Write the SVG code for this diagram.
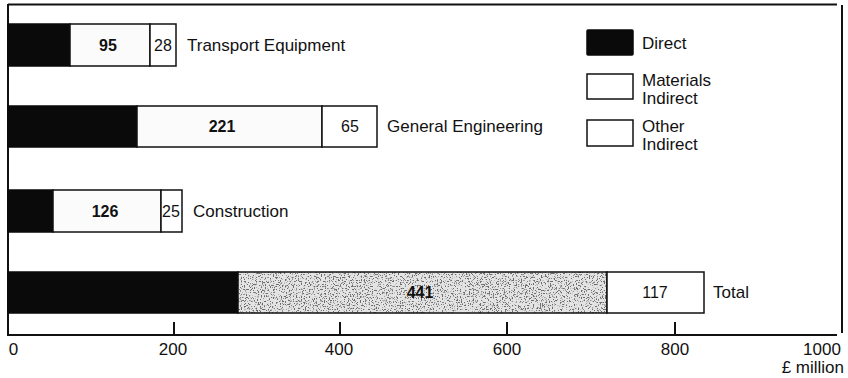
<svg xmlns="http://www.w3.org/2000/svg" width="848" height="378" viewBox="0 0 848 378">
<style>
  text { font-family: "Liberation Sans", Arial, sans-serif; fill: #111; }
  .lbl { font-size: 17px; }
  .val { font-size: 16px; text-anchor: middle; }
  .b { font-weight: bold; }
  .ax { font-size: 17px; text-anchor: middle; }
  .frame { stroke: #111; stroke-width: 2; fill: none; }
  .direct { fill: #0a0a0a; stroke: #0a0a0a; stroke-width: 1.5; }
  .mat { fill: #fbfbfb; stroke: #111; stroke-width: 1.5; }
  .oth { fill: #ffffff; stroke: #111; stroke-width: 1.5; }
  .stip { fill: none; stroke: #111; stroke-width: 1.5; }
</style>
<defs>
  <filter id="speckle" x="0" y="0" width="1" height="1" filterUnits="objectBoundingBox">
    <feTurbulence type="fractalNoise" baseFrequency="0.75" numOctaves="3" seed="7" result="n"/>
    <feColorMatrix in="n" type="matrix" values="0 0 0 0 0.15  0 0 0 0 0.15  0 0 0 0 0.15  0 0 0 9 -5.0"/>
  </filter>
</defs>

<g id="frame">
  <line class="frame" x1="8" y1="4.5" x2="837" y2="4.5"/>
  <line class="frame" x1="8" y1="4" x2="8" y2="336"/>
  <line class="frame" x1="842" y1="5" x2="842" y2="333"/>
  <line class="frame" x1="8" y1="335" x2="837" y2="335"/>
  <line class="frame" x1="174" y1="322" x2="174" y2="335"/>
  <line class="frame" x1="340" y1="322" x2="340" y2="335"/>
  <line class="frame" x1="507" y1="322" x2="507" y2="335"/>
  <line class="frame" x1="675" y1="322" x2="675" y2="335"/>
</g>

<g id="axis-labels">
  <text class="ax" x="13.5" y="355">0</text>
  <text class="ax" x="173" y="355">200</text>
  <text class="ax" x="339" y="355">400</text>
  <text class="ax" x="507" y="355">600</text>
  <text class="ax" x="675" y="355">800</text>
  <text class="ax" x="822" y="355">1000</text>
  <text class="lbl" x="844" y="373" text-anchor="end">£ million</text>
</g>

<g id="transport">
  <rect class="direct" x="8" y="24" width="62" height="42"/>
  <rect class="mat" x="70" y="24" width="80" height="42"/>
  <rect class="oth" x="150" y="24" width="26" height="42"/>
  <text class="val b" x="108" y="51">95</text>
  <text class="val" x="163" y="51">28</text>
  <text class="lbl" x="187" y="51">Transport Equipment</text>
</g>

<g id="general-engineering">
  <rect class="direct" x="8" y="106" width="129" height="41"/>
  <rect class="mat" x="137" y="106" width="185" height="41"/>
  <rect class="oth" x="322" y="106" width="55" height="41"/>
  <text class="val b" x="222" y="132">221</text>
  <text class="val" x="350" y="132">65</text>
  <text class="lbl" x="387" y="132">General Engineering</text>
</g>

<g id="construction">
  <rect class="direct" x="8" y="190" width="45" height="42"/>
  <rect class="mat" x="53" y="190" width="108" height="42"/>
  <rect class="oth" x="161" y="190" width="21" height="42"/>
  <text class="val b" x="105" y="217">126</text>
  <text class="val" x="171" y="217">25</text>
  <text class="lbl" x="193" y="217">Construction</text>
</g>

<g id="total">
  <rect class="direct" x="8" y="272" width="230" height="41"/>
  <rect x="238" y="272" width="369" height="41" fill="#e4e4e4"/>
  <rect x="238" y="272" width="369" height="41" fill="#000" filter="url(#speckle)"/>
  <rect class="stip" x="238" y="272" width="369" height="41"/>
  <rect class="oth" x="607" y="272" width="97" height="41"/>
  <text class="val b" x="420" y="298">441</text>
  <text class="val" x="655" y="298">117</text>
  <text class="lbl" x="713" y="298">Total</text>
</g>

<g id="legend">
  <rect class="direct" x="587" y="30" width="46" height="25" rx="1"/>
  <text class="lbl" x="642" y="49">Direct</text>
  <rect class="oth" x="587" y="74" width="46" height="25"/>
  <text class="lbl" x="642" y="86">Materials</text>
  <text class="lbl" x="642" y="104">Indirect</text>
  <rect class="oth" x="587" y="120" width="46" height="26"/>
  <text class="lbl" x="642" y="132">Other</text>
  <text class="lbl" x="642" y="150">Indirect</text>
</g>
</svg>
